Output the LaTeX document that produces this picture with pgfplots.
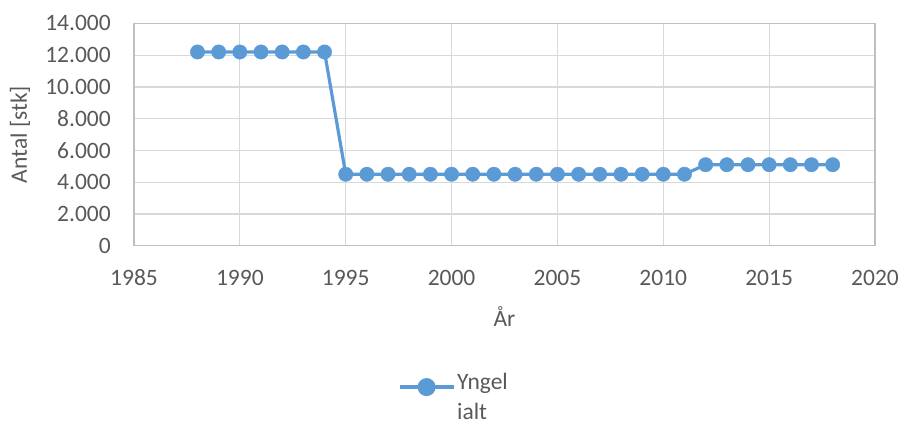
\documentclass[border=0pt]{standalone}
\usepackage{pgfplots}
\pgfplotsset{compat=1.18}
\usepackage{fontspec}
\setmainfont{Carlito}
\definecolor{serie}{HTML}{5B9BD5}
\definecolor{gridc}{HTML}{D9D9D9}
\definecolor{axc}{HTML}{BFBFBF}
\definecolor{txt}{HTML}{595959}
\begin{document}
\fontsize{23}{28}\selectfont
\begin{tikzpicture}[x=1pt,y=1pt]
\path[use as bounding box] (0,0) rectangle (902,425);
\begin{axis}[
  at={(134pt,179.3pt)}, anchor=south west,
  width=741pt, height=222.3pt, scale only axis,
  xmin=1985, xmax=2020, ymin=0, ymax=14000,
  xtick={1985,1990,...,2020}, ytick={0,2000,...,14000},
  scaled y ticks=false, scaled x ticks=false,
  grid=major, major grid style={gridc, line width=1.2pt},
  axis line style={axc, line width=1.2pt},
  tick style={draw=none},
  /pgf/number format/assume math mode=true,
  xticklabel={\pgfmathprintnumber[fixed,precision=0,1000 sep={}]{\tick}},
  yticklabel={\pgfmathprintnumber[fixed,precision=0,1000 sep={.}]{\tick}},
  ticklabel style={font=\fontsize{23.5}{28}\selectfont, text=txt, inner sep=0pt},
  xticklabel style={anchor=north, yshift=-24pt},
  yticklabel style={anchor=east, xshift=-23pt},
  xlabel={År}, ylabel={Antal [stk]},
  label style={font=\fontsize{23.5}{28}\selectfont, text=txt},
  xlabel style={at={(axis description cs:0.5,-0.318)}, anchor=center},
  ylabel style={at={(axis description cs:-0.154,0.5)}, anchor=center},
  legend style={at={(axis description cs:0.356,-0.5637)}, anchor=north west,
    draw=none, fill=none, inner sep=0pt, font=\fontsize{23.5}{30}\selectfont, text=txt,
    cells={align=left}},
  legend image code/.code={%
    \draw[serie, line width=3.2pt] (0pt,11pt) -- (54pt,11pt);
    \fill[serie] (27pt,11pt) circle (7.4pt);},
]
\addplot[serie, line width=3.2pt, mark=*, mark size=7.2pt, mark options={solid, fill=serie, draw=serie, line width=0.4pt}]
coordinates {
(1988,12200)(1989,12200)(1990,12200)(1991,12200)(1992,12200)(1993,12200)(1994,12200)
(1995,4500)(1996,4500)(1997,4500)(1998,4500)(1999,4500)(2000,4500)(2001,4500)(2002,4500)
(2003,4500)(2004,4500)(2005,4500)(2006,4500)(2007,4500)(2008,4500)(2009,4500)(2010,4500)(2011,4500)
(2012,5100)(2013,5100)(2014,5100)(2015,5100)(2016,5100)(2017,5100)(2018,5100)
};
\addlegendentry{Yngel\\ialt}
\end{axis}
\end{tikzpicture}
\end{document}
